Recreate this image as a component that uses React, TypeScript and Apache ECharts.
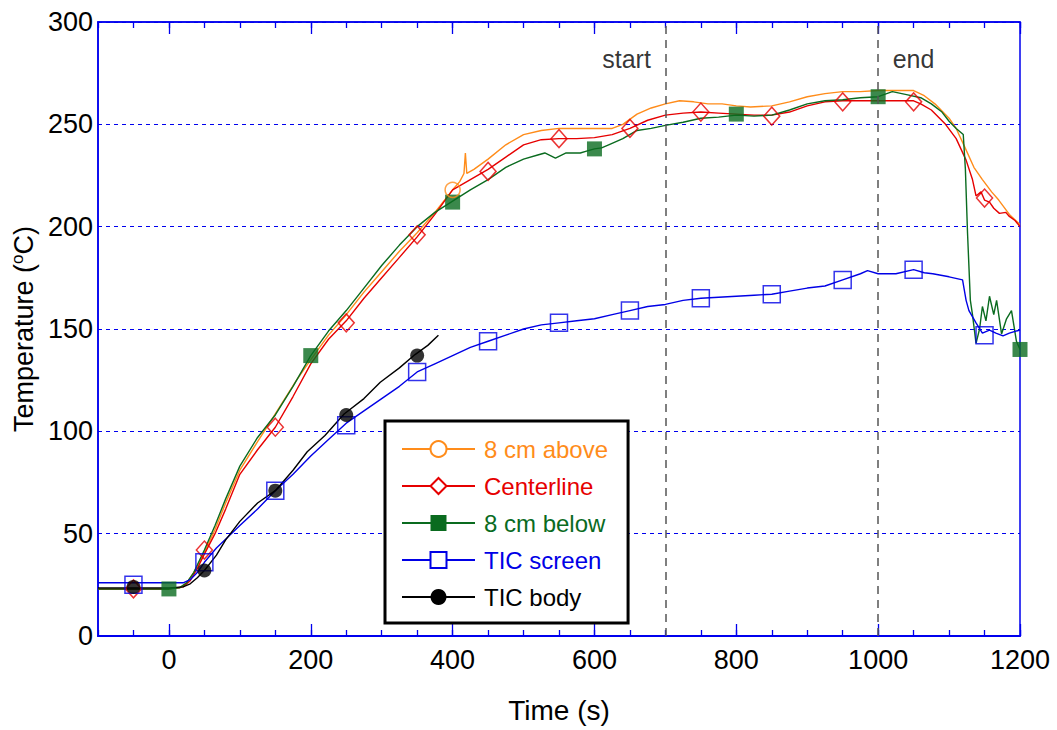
import React, { useEffect, useRef } from 'react';
import * as echarts from 'echarts';

// ---- data: [time (s), temperature (°C)] ----
const above: [number, number][] = [
  [-100, 23], [-50, 23], [0, 23], [15, 23.5], [25, 26], [35, 31], [50, 41], [65, 52], [80, 65], [100, 81],
  [125, 95], [140, 103], [160, 114], [180, 125], [200, 135], [225, 147], [250, 157], [275, 168], [300, 178],
  [325, 188], [350, 197], [375, 207], [400, 218], [410, 222], [416, 226], [418, 236], [420, 226], [430, 228],
  [450, 233], [475, 240], [500, 245], [525, 247], [550, 248], [575, 248], [600, 248], [625, 248], [640, 250],
  [660, 255], [680, 258], [700, 260], [720, 261.5], [740, 261], [760, 260], [780, 260], [800, 259], [820, 258.5],
  [850, 259], [875, 261], [900, 263.5], [925, 265], [950, 266], [975, 266], [1000, 266.5], [1025, 266.5],
  [1050, 266.5], [1065, 264], [1080, 260], [1100, 253], [1110, 248], [1122, 239], [1135, 229], [1147, 223],
  [1160, 217], [1170, 213], [1185, 206], [1200, 201],
];
const centerline: [number, number][] = [
  [-100, 23], [-50, 23], [0, 23], [20, 24], [30, 27], [40, 33], [50, 40], [65, 50], [80, 62], [100, 79],
  [125, 91], [150, 102], [175, 117], [200, 133], [225, 145], [250, 154], [275, 165], [300, 175], [325, 185],
  [350, 195], [375, 206], [400, 218], [425, 223], [450, 228], [475, 234], [500, 240], [525, 242.5], [550, 243],
  [575, 243], [600, 243.5], [625, 245], [650, 248], [675, 252], [700, 254.5], [725, 255.5], [750, 256],
  [775, 255.5], [800, 255], [825, 254.5], [850, 254.5], [875, 256], [900, 259], [925, 261], [950, 261.5],
  [975, 261.5], [1000, 261.5], [1025, 261.5], [1050, 261.5], [1060, 260], [1075, 257], [1095, 250], [1110, 243],
  [1124, 232.5], [1133, 223], [1138, 215], [1145, 217], [1150, 213], [1157, 212], [1163, 209], [1171, 206.5],
  [1180, 207], [1185, 205], [1193, 203], [1200, 200],
];
const below: [number, number][] = [
  [-100, 23], [-50, 23], [0, 23], [15, 23.5], [25, 26], [35, 31], [50, 42], [65, 54], [80, 67], [100, 83],
  [125, 97], [150, 108], [175, 122], [200, 137], [225, 149], [250, 159], [275, 170], [300, 181], [325, 191],
  [350, 200], [375, 207], [400, 212.5], [425, 218], [450, 223], [475, 229], [500, 233], [520, 235], [530, 236],
  [545, 233.5], [560, 236], [580, 236], [590, 237], [600, 238], [610, 238.5], [620, 240], [640, 243], [660, 247],
  [680, 248], [700, 249.5], [725, 251], [750, 253], [775, 253.5], [800, 254.5], [825, 254], [850, 254.5],
  [875, 257], [900, 260], [925, 261.5], [950, 262], [975, 263], [1000, 263.5], [1020, 266], [1040, 264.5],
  [1060, 263], [1075, 260], [1090, 256], [1100, 251.5], [1110, 248], [1120, 245], [1123, 228], [1126, 197],
  [1130, 164], [1133, 157], [1138, 143], [1143, 150], [1147, 161], [1152, 154], [1157, 166], [1163, 157],
  [1167, 164], [1174, 147.6], [1181, 155], [1188, 159], [1195, 144], [1200, 140],
];
const screen: [number, number][] = [
  [-100, 26], [-50, 26], [0, 26], [20, 26], [30, 27.5], [40, 31], [50, 36], [67, 43], [85, 49], [100, 54],
  [125, 62], [150, 71], [175, 79], [200, 88], [225, 96], [250, 104], [275, 110], [300, 116], [325, 122],
  [350, 129], [375, 133], [400, 137], [425, 141], [450, 144], [475, 147], [500, 150], [525, 152], [550, 153],
  [575, 154], [600, 155], [625, 157], [650, 159], [675, 161], [700, 162], [725, 164], [750, 165], [775, 165.5],
  [800, 166], [825, 166.5], [850, 167], [875, 168.5], [900, 170], [925, 171], [950, 174], [975, 177], [985, 178.5],
  [1000, 177], [1025, 177], [1050, 179], [1065, 177.5], [1077, 177], [1100, 175.5], [1119, 174], [1124, 164],
  [1128, 159], [1138, 153], [1147, 148], [1157, 149.5], [1166, 148], [1176, 146.6], [1185, 148], [1200, 149.5],
];
const body: [number, number][] = [
  [-100, 23.5], [-50, 23.5], [0, 23.5], [20, 24], [30, 25.5], [40, 28.5], [50, 32], [67, 39.5], [80, 47],
  [100, 56], [125, 65], [150, 71], [175, 81], [195, 90], [220, 98], [247, 108.5], [275, 116], [298, 124],
  [325, 131], [347, 137.5], [365, 142], [380, 147],
];

// ---- marker points ----
const aboveMarks: [number, number][] = [[400, 218]];
const centerMarks: [number, number][] = [
  [-50, 23], [50, 42], [150, 102], [250, 153], [350, 196], [450, 227], [550, 243], [650, 248], [750, 256],
  [850, 254], [950, 261], [1050, 261], [1150, 214],
];
const belowMarks: [number, number][] = [[0, 23], [200, 137], [400, 212], [600, 238], [800, 255], [1000, 263.5], [1200, 140]];
const screenMarks: [number, number][] = [
  [-50, 25], [50, 36], [150, 71], [250, 103], [350, 129], [450, 144], [550, 153], [650, 159], [750, 165],
  [850, 167], [950, 174], [1050, 179], [1150, 147],
];
const bodyMarks: [number, number][] = [[-50, 24], [50, 32], [150, 71], [250, 108], [350, 137]];

// ---- annotations / ticks ----
const eventTimes = [700, 1000];
const eventLabels = ['start', 'end'];
const eventLabelY = 282;
const majorXTicks = [0, 200, 400, 600, 800, 1000, 1200];
const seriesNames = ['8 cm above', 'Centerline', '8 cm below', 'TIC screen', 'TIC body'];

const FONT = '"Liberation Sans", Arial, Helvetica, sans-serif';
const FRAME = '#0000ee';
const ORANGE = '#ff8c1a';
const RED = '#e60000';
const GREEN = '#0a6b1f';
const BLUE = '#0000e6';
const BLACK = '#000000';
const colors = [ORANGE, RED, GREEN, BLUE, BLACK];

function lineSeries(name: string, data: [number, number][], color: string, symbol: string) {
  return {
    type: 'line', name, data, color, symbol, symbolSize: 16, showSymbol: false,
    xAxisIndex: 0, yAxisIndex: 0,
    lineStyle: { color, width: 1.4 }, itemStyle: { color }, z: 2,
  };
}
function markerSeries(name: string, data: [number, number][], symbol: string, size: any, color: string, filled: boolean) {
  return {
    type: 'scatter', name, data, symbol, symbolSize: size, clip: false,
    xAxisIndex: 0, yAxisIndex: 0,
    itemStyle: filled ? { color } : { color: 'rgba(255,255,255,0)', borderColor: color, borderWidth: 1.5 },
    z: 4,
  };
}

const xBase = { type: 'value', min: -100, max: 1200, gridIndex: 0, splitLine: { show: false } };

const option: any = {
  animation: false,
  backgroundColor: '#ffffff',
  grid: { left: 98, right: 37, top: 22, bottom: 94, show: true, borderColor: FRAME, borderWidth: 1.5, outerBoundsMode: 'none', containLabel: false },
  xAxis: [
    {
      ...xBase, position: 'bottom', interval: 100,
      axisLine: { show: true, onZero: false, lineStyle: { color: FRAME, width: 2 } },
      axisTick: { show: true, inside: true, length: 12, customValues: majorXTicks, lineStyle: { color: FRAME, width: 1.3 } },
      axisLabel: {
        customValues: majorXTicks, fontSize: 27, fontFamily: FONT, color: '#000', margin: 10,
        formatter: (v: number) => (v >= 0 && v % 200 === 0 ? String(v) : ''),
      },
      name: 'Time (s)', nameLocation: 'middle', nameGap: 60,
      nameTextStyle: { fontSize: 28, fontFamily: FONT, color: '#000' },
    },
    {
      ...xBase, position: 'bottom', interval: 50,
      axisLine: { show: false, onZero: false },
      axisTick: { show: true, inside: true, length: 6, lineStyle: { color: FRAME, width: 1.3 } },
      axisLabel: { show: false },
    },
    {
      ...xBase, position: 'top', interval: 100,
      axisLine: { show: true, onZero: false, lineStyle: { color: FRAME, width: 1.5 } },
      axisTick: { show: true, inside: true, length: 12, customValues: majorXTicks, lineStyle: { color: FRAME, width: 1.3 } },
      axisLabel: { show: false },
    },
    {
      ...xBase, position: 'top', interval: 50,
      axisLine: { show: false, onZero: false },
      axisTick: { show: true, inside: true, length: 6, lineStyle: { color: FRAME, width: 1.3 } },
      axisLabel: { show: false },
    },
  ],
  yAxis: [
    {
      type: 'value', min: 0, max: 300, interval: 50, position: 'left',
      axisLine: { show: true, onZero: false, lineStyle: { color: FRAME, width: 1.5 } },
      axisTick: { show: false },
      axisLabel: { fontSize: 27, fontFamily: FONT, color: '#000', margin: 5 },
      splitLine: { show: true, lineStyle: { color: FRAME, type: [4, 4], width: 1 } },
      name: '{a|Temperature (}{b|o}{a|C)}', nameLocation: 'middle', nameGap: 57,
      nameTextStyle: {
        rich: {
          a: { fontSize: 27, fontFamily: FONT, color: '#000', lineHeight: 30 },
          b: { fontSize: 17, fontFamily: FONT, color: '#000', verticalAlign: 'top', lineHeight: 30 },
        },
      },
    },
  ],
  legend: {
    show: true, orient: 'vertical', align: 'left', left: 385, top: 421,
    padding: [16, 20, 14, 16],
    borderColor: '#000', borderWidth: 3, backgroundColor: '#fff',
    itemWidth: 73, itemHeight: 20, itemGap: 13,
    textStyle: { fontSize: 24, fontFamily: FONT, padding: [0, 0, 0, 4] },
    data: seriesNames.map((n, i) => ({ name: n, textStyle: { color: colors[i], fontSize: 24, fontFamily: FONT } })),
  },
  series: [
    lineSeries(seriesNames[0], above, ORANGE, 'emptyCircle'),
    lineSeries(seriesNames[1], centerline, RED, 'emptyDiamond'),
    lineSeries(seriesNames[2], below, GREEN, 'rect'),
    lineSeries(seriesNames[3], screen, BLUE, 'emptyRect'),
    lineSeries(seriesNames[4], body, BLACK, 'circle'),
    {
      type: 'scatter', name: 'events', xAxisIndex: 0, yAxisIndex: 0,
      symbolSize: 1, itemStyle: { color: 'rgba(0,0,0,0)' }, z: 5,
      data: eventTimes.map((t, i) => ({
        value: [t, eventLabelY],
        label: {
          show: true, formatter: eventLabels[i], position: i === 0 ? 'left' : 'right', distance: 14,
          fontSize: 25, fontFamily: FONT, color: '#000',
        },
      })),
      markLine: {
        silent: true, symbol: ['none', 'none'], label: { show: false },
        lineStyle: { color: '#555', type: [8, 6], width: 1.5 },
        data: eventTimes.map((t) => ({ xAxis: t })),
      },
    },
    markerSeries(seriesNames[1], centerMarks, 'diamond', [16, 18], RED, false),
    markerSeries(seriesNames[3], screenMarks, 'rect', 17, BLUE, false),
    markerSeries(seriesNames[4], bodyMarks, 'circle', 14, BLACK, true),
    markerSeries(seriesNames[2], belowMarks, 'rect', 15, GREEN, true),
    markerSeries(seriesNames[0], aboveMarks, 'circle', 15, ORANGE, false),
  ],
};

export default function App() {
  const ref = useRef<HTMLDivElement>(null);
  useEffect(() => {
    document.body.style.margin = '0';
    const chart = echarts.init(ref.current as HTMLDivElement, null, { renderer: 'svg' });
    chart.setOption(option);
    return () => chart.dispose();
  }, []);
  return <div ref={ref} style={{ width: 1057, height: 730, background: '#fff' }} />;
}
